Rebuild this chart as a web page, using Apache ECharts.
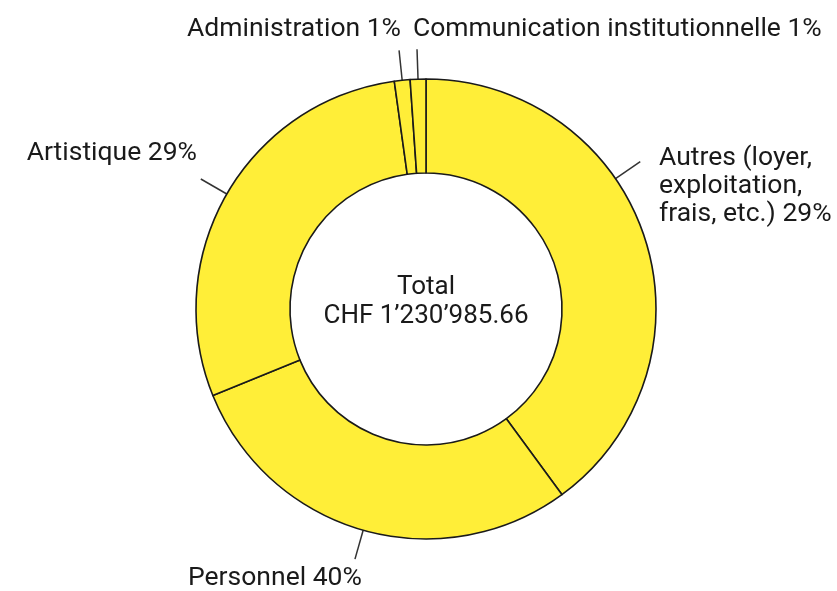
<!DOCTYPE html>
<html>
<head>
<meta charset="utf-8">
<script src="https://cdn.jsdelivr.net/npm/echarts@6/dist/echarts.min.js"></script>
<style>
  html, body { margin: 0; padding: 0; background: #fff; }
  #chart { width: 837px; height: 591px; }
</style>
</head>
<body>
<div id="chart"></div>
<script>
// slice order clockwise from 12 o'clock
const categories = ['Autres (loyer,\nexploitation,\nfrais, etc.)', 'Personnel', 'Artistique', 'Administration', 'Communication institutionnelle']
// slice sizes as drawn (share of the ring, %)
const shares = [39.9, 28.9, 28.9, 1.1, 1.1]
// percentages printed in the labels
const labelPercents = [29, 40, 29, 1, 1]
const centerTitle = 'Total'
const centerAmount = 'CHF 1’230’985.66'

const center = [426, 309]
const outerR = 230
const innerR = 136
const leaderLen = 30
const font = 'Roboto, "Liberation Sans", sans-serif'

// label placement (layout only)
const labelPos = [
  { x: 659, y: 144, align: 'left', verticalAlign: 'top' },
  { x: 188, y: 578, align: 'left', verticalAlign: 'middle' },
  { x: 197, y: 153, align: 'right', verticalAlign: 'middle' },
  { x: 401, y: 29, align: 'right', verticalAlign: 'middle' },
  { x: 413, y: 29, align: 'left', verticalAlign: 'middle' }
]
// the Autres leader sits off its slice middle in the original
const leaderAngleOverride = { 0: 55.5 }

const total = shares.reduce((a, b) => a + b, 0)
const midAngles = []
;(() => {
  let acc = 0
  shares.forEach(v => {
    midAngles.push((acc + v / 2) / total * 360)
    acc += v
  })
})()

function leaderPoints (idx) {
  const a = (leaderAngleOverride[idx] != null ? leaderAngleOverride[idx] : midAngles[idx]) * Math.PI / 180
  const sx = Math.sin(a), sy = -Math.cos(a)
  const p0 = [center[0] + outerR * sx, center[1] + outerR * sy]
  const p1 = [center[0] + (outerR + leaderLen) * sx, center[1] + (outerR + leaderLen) * sy]
  return [p0, p1, p1]
}

const chart = echarts.init(document.getElementById('chart'))
chart.setOption({
  animation: false,
  title: {
    text: centerTitle + '\n' + centerAmount,
    left: center[0] - 5,
    top: 268,
    textAlign: 'center',
    textStyle: { fontFamily: font, fontSize: 26, fontWeight: 'normal', color: '#1a1a1a', lineHeight: 29 }
  },
  series: [{
    type: 'pie',
    center: center,
    radius: [innerR, outerR],
    startAngle: 90,
    clockwise: true,
    silent: true,
    itemStyle: { color: '#FFEE38', borderColor: '#1a1a1a', borderWidth: 1.6 },
    label: {
      show: true,
      position: 'outside',
      fontFamily: font,
      fontSize: 26.5,
      lineHeight: 28,
      color: '#1a1a1a',
      overflow: 'none',
      formatter: p => p.name + ' ' + labelPercents[p.dataIndex] + '%'
    },
    labelLine: { show: true, length: leaderLen, length2: 0, lineStyle: { color: '#333', width: 1.5 } },
    labelLayout: params => {
      const pos = labelPos[params.dataIndex]
      return {
        x: pos.x,
        y: pos.y,
        align: pos.align,
        verticalAlign: pos.verticalAlign,
        labelLinePoints: leaderPoints(params.dataIndex)
      }
    },
    data: categories.map((name, i) => ({ name, value: shares[i] }))
  }]
})
</script>
</body>
</html>
